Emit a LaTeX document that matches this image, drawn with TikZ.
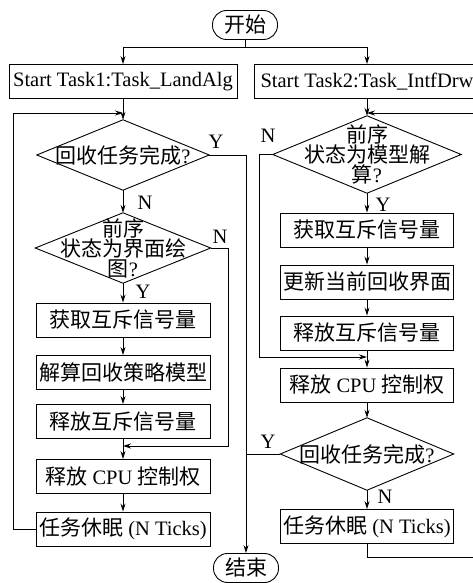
\documentclass[tikz,border=0pt]{standalone}
\usepackage{fontspec}
\setmainfont{Liberation Serif}
\newfontfamily\cjk{Noto Sans CJK SC}
\usetikzlibrary{arrows.meta}
\newcommand\zh[1]{{\cjk\fontsize{21}{20}\selectfont #1}}
\begin{document}
\begin{tikzpicture}[x=1pt,y=-1pt,
  every node/.style={font=\fontsize{20.5}{20}\selectfont},
  box/.style={draw, line width=0.9pt, minimum height=34pt, inner sep=0pt},
  term/.style={draw, line width=0.9pt, rounded corners=14pt, minimum width=65pt, minimum height=29pt, inner sep=0pt},
  dbox/.style={inner sep=0pt, align=center},
  dline/.style={line width=0.9pt, line join=miter},
  conn/.style={line width=0.9pt},
  arr/.style={-{Stealth[length=8pt,width=5pt]}},
  lab/.style={inner sep=0pt}
]
\useasboundingbox (0,0) rectangle (473,583);
\fill[white] (0,0) rectangle (473,583);
\clip (0,0) rectangle (473,583);

% top
\node[term] (start) at (245,25) {\zh{开始}};
\node[box, minimum width=228pt] (t1) at (123,81.5) {Start Task1:Task\_LandAlg};
\node[box, minimum width=226pt] (t2) at (367,81.5) {Start Task2:Task\_IntfDrw};

% left column
\node[dbox, minimum width=172pt, minimum height=70pt] (d1) at (123,155) {\zh{回收任务完成}?};
\node[dbox, minimum width=175pt, minimum height=70pt] (d2) at (123,248) {\zh{前序}\\\zh{状态为界面绘}\\\zh{图}?};
\node[box, minimum width=174pt] (b1) at (123,320) {\zh{获取互斥信号量}};
\node[box, minimum width=174pt] (b2) at (123,372.5) {\zh{解算回收策略模型}};
\node[box, minimum width=174pt] (b3) at (123,421.5) {\zh{释放互斥信号量}};
\node[box, minimum width=174pt] (b4) at (123,476.5) {\zh{释放} CPU \zh{控制权}};
\node[box, minimum width=174pt] (b5) at (123,529) {\zh{任务休眠} (N Ticks)};
\node[term] (end) at (246,568) {\zh{结束}};

% right column
\node[dbox, minimum width=188pt, minimum height=77pt] (d3) at (367,154.5) {\zh{前序}\\\zh{状态为模型解}\\\zh{算}?};
\node[box, minimum width=173pt] (c1) at (367,230) {\zh{获取互斥信号量}};
\node[box, minimum width=173pt] (c2) at (367,282) {\zh{更新当前回收界面}};
\node[box, minimum width=173pt] (c3) at (367,333) {\zh{释放互斥信号量}};
\node[box, minimum width=173pt] (c4) at (367,385) {\zh{释放} CPU \zh{控制权}};
\node[dbox, minimum width=173pt, minimum height=72pt] (d4) at (367,454) {\zh{回收任务完成}?};
\node[box, minimum width=173pt] (c5) at (367,526.5) {\zh{任务休眠} (N Ticks)};

% diamonds outlines
\foreach \d in {d1,d2,d3,d4}
  \draw[dline] (\d.north) -- (\d.east) -- (\d.south) -- (\d.west) -- cycle;

% junction points
\coordinate (j1) at (123,113);
\coordinate (j2) at (123,446);
\coordinate (j3) at (367,113);
\coordinate (j4) at (367,357);

% labels
\node[lab] (ly1) at (216,142) {Y};
\node[lab] (ln1) at (145,203) {N};
\node[lab] (ln2) at (220,237) {N};
\node[lab] (ly2) at (143,292) {Y};
\node[lab] (ln3) at (268,136) {N};
\node[lab] (ly3) at (383,205) {Y};
\node[lab] (ly4) at (268,442) {Y};
\node[lab] (ln4) at (385,497) {N};

% connectors: top
\draw[conn] (start.south) -- ++(0,8) coordinate (fk);
\draw[conn,arr] (fk) -| (t1.north);
\draw[conn,arr] (fk) -| (t2.north);

% left
\draw[conn,arr] (t1.south) -- (d1.north);
\draw[conn,arr] (d1.south) -- (d2.north);
\draw[conn,arr] (d2.south) -- (b1.north);
\draw[conn,arr] (b1.south) -- (b2.north);
\draw[conn,arr] (b2.south) -- (b3.north);
\draw[conn,arr] (b3.south) -- (b4.north);
\draw[conn,arr] (b4.south) -- (b5.north);
\draw[conn,arr] (b5.west) -- ++(-22,0) |- (j1);
\draw[conn,arr] (d2.east) -- ++(18,0) |- (j2);
\draw[conn,arr] (d1.east) -| (end.north);

% right
\draw[conn,arr] (t2.south) -- (d3.north);
\draw[conn,arr] (d3.south) -- (c1.north);
\draw[conn,arr] (c1.south) -- (c2.north);
\draw[conn,arr] (c2.south) -- (c3.north);
\draw[conn,arr] (c3.south) -- (c4.north);
\draw[conn,arr] (c4.south) -- (d4.north);
\draw[conn,arr] (d4.south) -- (c5.north);
\draw[conn,arr] (d3.west) -- ++(-13,0) |- (j4);
\draw[conn] (d4.west) -- (d4.west -| end.north);
\draw[conn,arr] (c5.south) -- ++(0,13.5) -- ++(130,0) |- (j3);
\end{tikzpicture}
\end{document}
